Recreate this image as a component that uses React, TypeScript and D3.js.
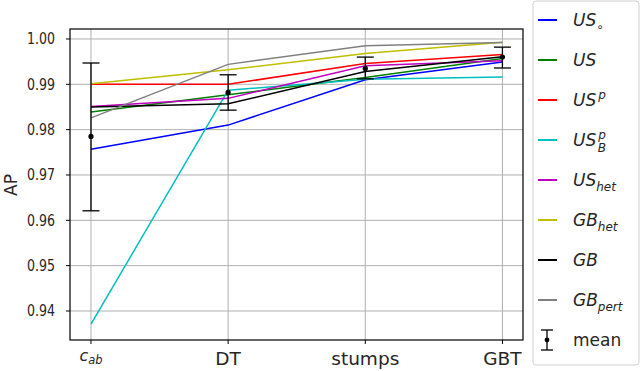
import React, { useEffect, useRef } from "react";
import * as d3 from "d3";

const categories = ["c_ab", "DT", "stumps", "GBT"];
const seriesNames = ["US_o", "US", "US_p", "US_Bp", "US_het", "GB_het", "GB", "GB_pert"];
const seriesColors = ["#0000ff", "#008000", "#ff0000", "#00bfbf", "#bf00bf", "#bfbf00", "#000000", "#808080"];

const usCirc = [0.9757, 0.9810, 0.9910, 0.9949];
const us = [0.9839, 0.9877, 0.9915, 0.9957];
const usP = [0.9900, 0.9900, 0.9946, 0.9966];
const usBP = [0.9371, 0.9887, 0.9911, 0.9916];
const usHet = [0.9851, 0.9869, 0.9941, 0.9952];
const gbHet = [0.9901, 0.9932, 0.9968, 0.9993];
const gb = [0.9850, 0.9857, 0.9928, 0.9961];
const gbPert = [0.9826, 0.9944, 0.9985, 0.9992];

const meanValues = [0.9785, 0.9882, 0.9935, 0.9960];
const meanLow = [0.9621, 0.9843, 0.9912, 0.9936];
const meanHigh = [0.9947, 0.9921, 0.9960, 0.9982];

const yTicks = [0.94, 0.95, 0.96, 0.97, 0.98, 0.99, 1.0];

const allSeries = [usCirc, us, usP, usBP, usHet, gbHet, gb, gbPert];

export default function App() {
  const ref = useRef<SVGSVGElement | null>(null);

  useEffect(() => {
    const width = 640;
    const height = 371;
    const left = 70, right = 523, top = 29, bottom = 340;

    const svg = d3.select(ref.current);
    svg.selectAll("*").remove();
    svg.attr("width", width).attr("height", height);

    const x = d3.scaleLinear().domain([-0.153, 3.15]).range([left, right]);
    const y = d3.scaleLinear().domain([0.9336, 1.0022]).range([bottom, top]);

    const font = "DejaVu Sans, sans-serif";

    // grid
    const g = svg.append("g");
    g.selectAll("line.hgrid").data(yTicks).enter().append("line")
      .attr("x1", left).attr("x2", right)
      .attr("y1", d => y(d)).attr("y2", d => y(d))
      .attr("stroke", "#b0b0b0").attr("stroke-width", 1);
    g.selectAll("line.vgrid").data(categories).enter().append("line")
      .attr("x1", (d, i) => x(i)).attr("x2", (d, i) => x(i))
      .attr("y1", top).attr("y2", bottom)
      .attr("stroke", "#b0b0b0").attr("stroke-width", 1);

    // series lines
    const line = d3.line<number>().x((d, i) => x(i)).y(d => y(d));
    allSeries.forEach((s, k) => {
      g.append("path").datum(s)
        .attr("d", line)
        .attr("fill", "none")
        .attr("stroke", seriesColors[k])
        .attr("stroke-width", 1.5);
    });

    // error bars for mean
    const cap = 8.5;
    meanValues.forEach((m, i) => {
      const cx = x(i);
      g.append("line").attr("x1", cx).attr("x2", cx)
        .attr("y1", y(meanLow[i])).attr("y2", y(meanHigh[i]))
        .attr("stroke", "#000").attr("stroke-width", 1.3);
      [meanLow[i], meanHigh[i]].forEach(v => {
        g.append("line").attr("x1", cx - cap).attr("x2", cx + cap)
          .attr("y1", y(v)).attr("y2", y(v))
          .attr("stroke", "#000").attr("stroke-width", 1.3);
      });
      g.append("circle").attr("cx", cx).attr("cy", y(m)).attr("r", 2.6).attr("fill", "#000");
    });

    // frame
    svg.append("rect").attr("x", left).attr("y", top)
      .attr("width", right - left).attr("height", bottom - top)
      .attr("fill", "none").attr("stroke", "#000").attr("stroke-width", 1.2);

    // y ticks
    yTicks.forEach(t => {
      svg.append("line").attr("x1", left - 4).attr("x2", left)
        .attr("y1", y(t)).attr("y2", y(t)).attr("stroke", "#000");
      svg.append("text")
        .attr("x", 55).attr("y", y(t) + 5.5)
        .attr("text-anchor", "end")
        .attr("font-family", font).attr("font-size", 15.5)
        .attr("textLength", 28).attr("lengthAdjust", "spacingAndGlyphs")
        .attr("fill", "#262626")
        .text(t.toFixed(2));
    });

    // x ticks
    categories.forEach((c, i) => {
      svg.append("line").attr("x1", x(i)).attr("x2", x(i))
        .attr("y1", bottom).attr("y2", bottom + 4).attr("stroke", "#000");
      const t = svg.append("text")
        .attr("x", x(i)).attr("y", 365)
        .attr("text-anchor", "middle")
        .attr("font-family", font).attr("font-size", 18.5)
        .attr("fill", "#262626");
      if (c === "c_ab") {
        t.attr("y", 361);
        t.append("tspan").attr("font-style", "italic").attr("font-size", 16).text("c");
        t.append("tspan").attr("font-style", "italic").attr("font-size", 11.5).attr("dy", 3).text("ab");
      } else {
        t.text(c);
      }
    });

    // y label
    svg.append("text")
      .attr("transform", "translate(17,185) rotate(-90)")
      .attr("text-anchor", "middle")
      .attr("font-family", font).attr("font-size", 17)
      .attr("fill", "#262626")
      .text("AP");

    // legend
    const lg = svg.append("g");
    lg.append("rect").attr("x", 533).attr("y", 1).attr("width", 106).attr("height", 364)
      .attr("rx", 3).attr("fill", "#fff").attr("stroke", "#d0d0d0").attr("stroke-width", 1);

    const labelParts: [string, string, string][] = [
      ["US", "∘", ""],
      ["US", "", ""],
      ["US", "", "p"],
      ["US", "B", "p"],
      ["US", "het", ""],
      ["GB", "het", ""],
      ["GB", "", ""],
      ["GB", "pert", ""],
    ];

    seriesNames.forEach((name, k) => {
      const ry = 20 + k * 40;
      lg.append("line").attr("x1", 538).attr("x2", 557)
        .attr("y1", ry).attr("y2", ry)
        .attr("stroke", seriesColors[k]).attr("stroke-width", 2);
      const [base, sub, sup] = labelParts[k];
      const t = lg.append("text")
        .attr("x", 573).attr("y", ry + 6)
        .attr("font-family", font).attr("font-size", 17).attr("font-style", "italic")
        .attr("fill", "#262626");
      t.append("tspan").text(base);
      if (sup) {
        t.append("tspan").attr("font-size", 12).attr("dx", 2).attr("dy", -7).text(sup);
      }
      if (sub) {
        if (sup) {
          t.append("tspan").attr("font-size", 12).attr("dx", -8).attr("dy", 13).text(sub);
        } else {
          t.append("tspan").attr("font-size", 12).attr("dy", 5).text(sub);
        }
      }
    });

    // mean legend entry
    const my = 340;
    const mx = 547;
    lg.append("line").attr("x1", mx).attr("x2", mx).attr("y1", my - 10).attr("y2", my + 10)
      .attr("stroke", "#000").attr("stroke-width", 1.3);
    [my - 10, my + 10].forEach(v => {
      lg.append("line").attr("x1", mx - 6).attr("x2", mx + 6).attr("y1", v).attr("y2", v)
        .attr("stroke", "#000").attr("stroke-width", 1.3);
    });
    lg.append("circle").attr("cx", mx).attr("cy", my).attr("r", 2.4).attr("fill", "#000");
    lg.append("text").attr("x", 573).attr("y", my + 6)
      .attr("font-family", font).attr("font-size", 17)
      .attr("fill", "#262626")
      .text("mean");
  }, []);

  return (
    <div style={{ position: "absolute", left: 0, top: 0 }}>
      <svg ref={ref}></svg>
    </div>
  );
}
